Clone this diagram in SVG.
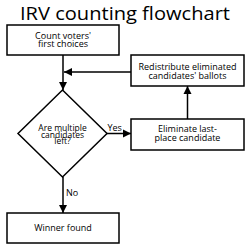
<svg xmlns="http://www.w3.org/2000/svg" width="250" height="250" viewBox="0 0 250 250">
<style>
.box{fill:#fff;stroke:#000;stroke-width:1.5}
.t{font-family:"Open Sans","Noto Sans",sans-serif;font-size:9px;fill:#000;text-anchor:middle}
.d{font-family:"Open Sans","Noto Sans",sans-serif;font-size:8.5px;fill:#000;text-anchor:middle}
.title{font-family:"Open Sans","Noto Sans",sans-serif;font-size:18px;fill:#000;text-anchor:middle}
.c{fill:none;stroke:#000;stroke-width:1.5}
</style>
<defs>
<marker id="ah" viewBox="0 0 10 10" refX="10" refY="5" markerWidth="5.5" markerHeight="5.5" orient="auto" markerUnits="strokeWidth">
<path d="M0,0 L10,5 L0,10 z" fill="#000"/>
</marker>
</defs>
<rect width="250" height="250" fill="#fff"/>
<text class="title" x="125" y="20" textLength="210" lengthAdjust="spacingAndGlyphs">IRV counting flowchart</text>
<g id="connectors">
<path class="c" d="M63,55 V90" marker-end="url(#ah)"/>
<path class="c" d="M131,72 H64" marker-end="url(#ah)"/>
<path class="c" d="M106,133.5 H131" marker-end="url(#ah)"/>
<path class="c" d="M187.5,119 V86" marker-end="url(#ah)"/>
<path class="c" d="M63,177 V213" marker-end="url(#ah)"/>
<text class="t" x="107.5" y="130.5" style="text-anchor:start">Yes</text>
<text class="t" x="66" y="196" style="text-anchor:start">No</text>
</g>
<g id="count">
<rect class="box" x="7" y="25" width="112" height="30"/>
<text class="t" x="63" y="38.5">Count voters'</text>
<text class="t" x="63" y="47">first choices</text>
</g>
<g id="redistribute">
<rect class="box" x="131" y="55" width="113" height="31"/>
<text class="t" x="187.5" y="70">Redistribute eliminated</text>
<text class="t" x="187.5" y="78.5">candidates' ballots</text>
</g>
<g id="decision">
<path class="box" d="M62.5,90 L107,133.5 L62.5,177 L18,133.5 Z"/>
<text class="d" x="62.5" y="130.5">Are multiple</text>
<text class="d" x="62.5" y="137.5">candidates</text>
<text class="d" x="62.5" y="144">left?</text>
</g>
<g id="eliminate">
<rect class="box" x="131" y="119" width="113" height="31"/>
<text class="t" x="187.5" y="132">Eliminate last-</text>
<text class="t" x="187.5" y="140.5">place candidate</text>
</g>
<g id="winner">
<rect class="box" x="7" y="213" width="112" height="30"/>
<text class="t" x="63" y="231">Winner found</text>
</g>
</svg>
